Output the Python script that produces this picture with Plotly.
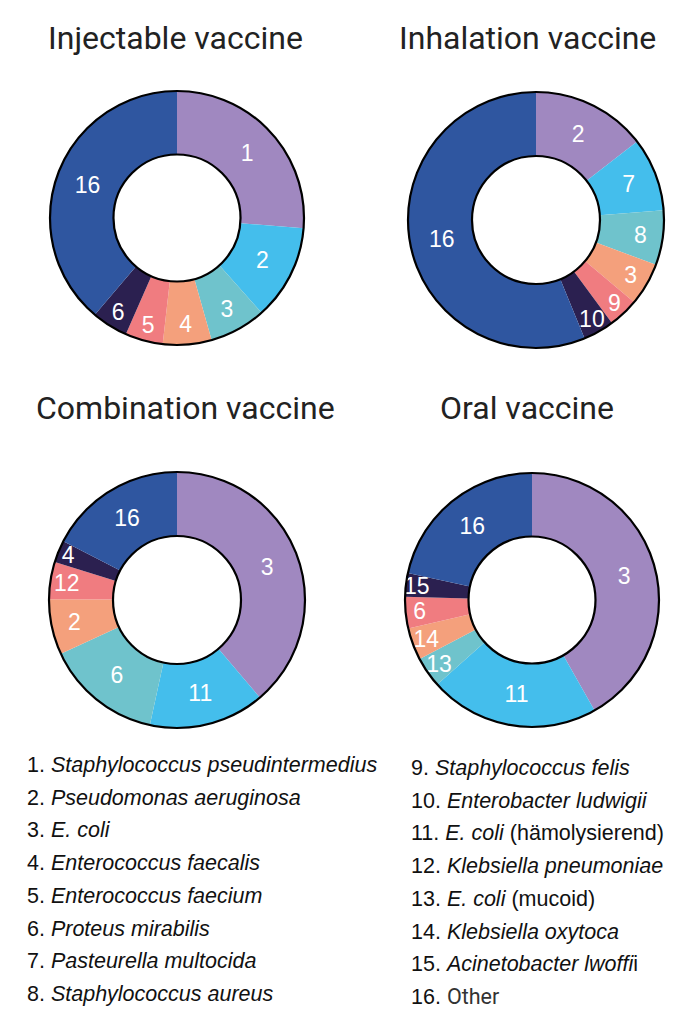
import plotly.graph_objects as go

# slice shares (%), clockwise from 12 o'clock
injectable_labels = ['1', '2', '3', '4', '5', '6', '16']
injectable_values = [26.3, 12.1, 7.2, 6.2, 4.8, 4.6, 38.8]

inhalation_labels = ['2', '7', '8', '3', '9', '10', '16']
inhalation_values = [14.5, 9.3, 6.9, 5.4, 3.8, 3.9, 56.2]

combination_labels = ['3', '11', '6', '2', '12', '4', '16']
combination_values = [38.8, 14.6, 14.7, 7.0, 4.7, 2.8, 17.4]

oral_labels = ['3', '11', '13', '14', '6', '15', '16']
oral_values = [41.8, 21.6, 3.9, 4.1, 4.0, 3.0, 21.6]

titles = ['Injectable vaccine', 'Inhalation vaccine', 'Combination vaccine', 'Oral vaccine']

legend_left = ['<i>Staphylococcus pseudintermedius</i>', '<i>Pseudomonas aeruginosa</i>',
               '<i>E. coli</i>', '<i>Enterococcus faecalis</i>', '<i>Enterococcus faecium</i>',
               '<i>Proteus mirabilis</i>', '<i>Pasteurella multocida</i>', '<i>Staphylococcus aureus</i>']
legend_right = ['<i>Staphylococcus felis</i>', '<i>Enterobacter ludwigii</i>',
                '<i>E. coli</i> (hämolysierend)', '<i>Klebsiella pneumoniae</i>',
                '<i>E. coli</i> (mucoid)', '<i>Klebsiella oxytoca</i>',
                '<i>Acinetobacter lwoffi</i>i', '<span style="font-family:Roboto;color:#333">Other</span>']

colors = ['#A088C0', '#44BEEC', '#6FC3CC', '#F4A07C', '#F07C80', '#2B2050', '#2F56A0']

# page has an 8px body margin, so the figure is a bit smaller than the window
OFF = 8
W, H = 698 - 2 * OFF, 1024 - 2 * OFF
label_font = 'Liberation Sans, Arial'


def px(x):
    return (x - OFF) / W


def py(y):
    return 1 - (y - OFF) / H


# (center x, center y, radius) in window px for each donut
spots = [(177, 218, 127), (536, 220, 128), (177, 600, 128), (532, 600, 127)]
title_x = [175, 527, 185, 527]
title_y = [38, 38, 408, 408]

data = [(injectable_labels, injectable_values), (inhalation_labels, inhalation_values),
        (combination_labels, combination_values), (oral_labels, oral_values)]

fig = go.Figure()
for (labels, values), (cx, cy, r) in zip(data, spots):
    dom = dict(x=[px(cx - r), px(cx + r)], y=[py(cy + r), py(cy - r)])
    fig.add_trace(go.Pie(labels=labels, values=values, domain=dom, hole=0.5,
                         sort=False, direction='clockwise', rotation=0,
                         marker=dict(colors=colors, line=dict(width=0)),
                         textinfo='label', textposition='inside',
                         insidetextorientation='horizontal',
                         textfont=dict(family=label_font, size=23, color='white'),
                         showlegend=False))
    # black outer/inner ring outline
    fig.add_trace(go.Pie(values=[1], labels=[''], domain=dom, hole=0.5, sort=False,
                         marker=dict(colors=['rgba(0,0,0,0)'], line=dict(color='black', width=2.2)),
                         textinfo='none', hoverinfo='skip', showlegend=False))

for t, x, y in zip(titles, title_x, title_y):
    fig.add_annotation(text=t, x=px(x), y=py(y), xref='paper', yref='paper',
                       xanchor='center', yanchor='middle', showarrow=False,
                       font=dict(family='Roboto', size=32, color='#222222'))

for i, name in enumerate(legend_left):
    fig.add_annotation(text='%d. %s' % (i + 1, name), x=px(25), y=py(765 + i * 32.7),
                       xref='paper', yref='paper', xanchor='left', yanchor='middle',
                       showarrow=False, font=dict(family=label_font, size=21.5, color='#111111'))
for i, name in enumerate(legend_right):
    fig.add_annotation(text='%d. %s' % (i + 9, name), x=px(409), y=py(768 + i * 32.7),
                       xref='paper', yref='paper', xanchor='left', yanchor='middle',
                       showarrow=False, font=dict(family=label_font, size=21.5, color='#111111'))

fig.update_layout(width=W, height=H, margin=dict(l=0, r=0, t=0, b=0),
                  paper_bgcolor='white', plot_bgcolor='white',
                  uniformtext=dict(minsize=23, mode='show'))
fig.write_html('out.html')
